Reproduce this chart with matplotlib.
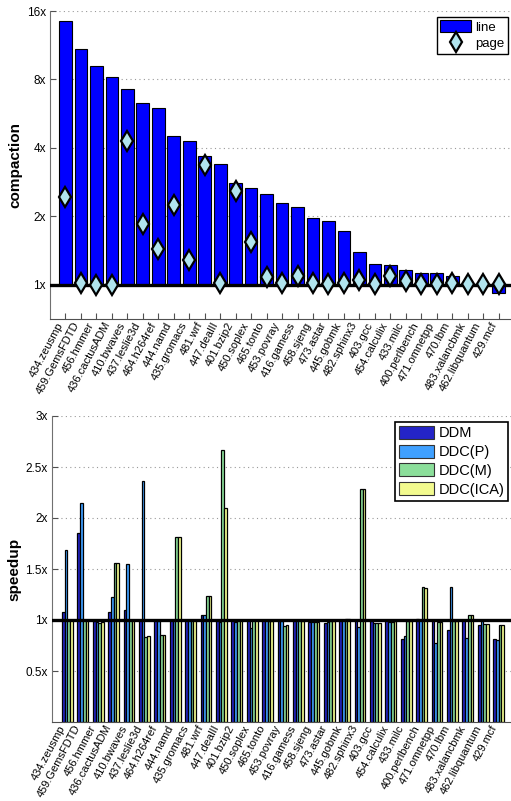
import matplotlib
matplotlib.use("Agg")
import numpy as np
import matplotlib.pyplot as plt
from matplotlib.lines import Line2D
from matplotlib.patches import Patch

plt.rcParams["font.family"] = ["Liberation Sans", "DejaVu Sans"]

benchmarks = [
    "434.zeusmp", "459.GemsFDTD", "456.hmmer", "436.cactusADM", "410.bwaves",
    "437.leslie3d", "464.h264ref", "444.namd", "435.gromacs", "481.wrf",
    "447.dealII", "401.bzip2", "450.soplex", "465.tonto", "453.povray",
    "416.gamess", "458.sjeng", "473.astar", "445.gobmk", "482.sphinx3",
    "403.gcc", "454.calculix", "433.milc", "400.perlbench", "471.omnetpp",
    "470.lbm", "483.xalancbmk", "462.libquantum", "429.mcf",
]

# compaction ratios (top panel)
line_compaction = [
    14.5, 10.9, 9.14, 8.17, 7.24, 6.29, 5.98, 4.53, 4.28, 3.68,
    3.39, 2.80, 2.67, 2.50, 2.29, 2.19, 1.96, 1.90, 1.73, 1.39,
    1.23, 1.22, 1.16, 1.13, 1.13, 1.09, 1.01, 1.0, 0.92,
]
page_compaction = [
    2.44, 1.02, 1.0, 1.0, 4.27, 1.85, 1.43, 2.25, 1.29, 3.35,
    1.02, 2.59, 1.55, 1.08, 1.02, 1.095, 1.02, 1.01, 1.02, 1.05,
    1.01, 1.095, 1.035, 1.01, 1.01, 1.02, 1.01, 1.01, 1.01,
]

# speedups (bottom panel)
ddm = [
    1.08, 1.85, 0.99, 1.08, 1.095, 1.0, 1.0, 1.0, 1.0, 1.045,
    1.0, 1.0, 1.0, 1.0, 1.0, 1.0, 0.98, 0.97, 1.0, 1.0,
    0.99, 1.0, 0.81, 1.01, 1.0, 0.90, 1.0, 0.95, 0.81,
]
ddc_p = [
    1.69, 2.15, 0.98, 1.23, 1.546, 2.36, 0.99, 1.0, 1.0, 1.045,
    0.98, 0.98, 0.92, 1.0, 0.99, 1.0, 0.98, 0.98, 1.0, 0.93,
    0.97, 0.98, 0.84, 1.0, 0.77, 1.32, 0.82, 0.99, 0.80,
]
ddc_m = [
    1.0, 1.0, 0.97, 1.555, 1.0, 0.83, 0.85, 1.81, 1.0, 1.24,
    2.67, 1.0, 1.0, 0.99, 0.94, 1.0, 0.98, 0.99, 1.01, 2.28,
    0.97, 0.98, 0.99, 1.32, 0.98, 0.99, 1.05, 0.96, 0.95,
]
ddc_ica = [
    1.0, 1.0, 0.98, 1.555, 1.0, 0.845, 0.85, 1.81, 1.0, 1.24,
    2.10, 1.0, 1.0, 0.99, 0.95, 0.99, 0.98, 0.99, 1.01, 2.28,
    0.97, 0.99, 0.99, 1.31, 0.98, 0.99, 1.045, 0.96, 0.95,
]

speedup_series = [
    ("DDM", ddm, "#2424c8"),
    ("DDC(P)", ddc_p, "#3fa0ff"),
    ("DDC(M)", ddc_m, "#8bde9a"),
    ("DDC(ICA)", ddc_ica, "#f2fa8e"),
]

x = np.arange(1, len(benchmarks) + 1)
FS = 8.5
XFS = 8


def style_axes(ax):
    for side in ("top", "right"):
        ax.spines[side].set_visible(False)
    ax.spines["left"].set_color("#707070")
    ax.spines["bottom"].set_color("#505050")
    ax.tick_params(axis="both", direction="in", length=4, color="#505050",
                   labelsize=FS, pad=3)
    ax.tick_params(axis="x", pad=1)
    ax.yaxis.grid(True, linestyle=(0, (1, 3)), color="#999999", linewidth=0.8)
    ax.set_axisbelow(True)
    ax.set_xticks(x)
    ax.set_xticklabels(benchmarks, rotation=62, ha="right",
                       rotation_mode="default", fontsize=XFS)
    ax.set_xlim(0, 29.8)


fig = plt.figure(figsize=(5.11, 8.01), dpi=100)

# Top panel: compaction on a log2 scale
ax1 = fig.add_axes([50 / 511, 1 - 319 / 801, 461 / 511, 308 / 801])
ax1.set_yscale("log", base=2)
ax1.set_ylim(2 ** -0.5, 16)
ax1.bar(x, np.array(line_compaction) - 1, bottom=1, width=0.82,
        color="#0000ff", edgecolor="black", linewidth=0.8, zorder=2)
ax1.axhline(1, color="black", linewidth=2.4, zorder=3)
ax1.plot(x, page_compaction, linestyle="none", marker="d", markersize=10.5,
         markerfacecolor="#b0e4ee", markeredgecolor="black",
         markeredgewidth=1.6, zorder=4)
ax1.set_yticks([1, 2, 4, 8, 16])
ax1.set_yticklabels(["1x", "2x", "4x", "8x", "16x"])
ax1.minorticks_off()
style_axes(ax1)
ax1.set_ylabel("compaction", fontsize=11, fontweight="bold", labelpad=3)

top_handles = [
    Patch(facecolor="#0000ff", edgecolor="black", linewidth=0.8),
    Line2D([], [], linestyle="none", marker="d", markersize=10,
           markerfacecolor="#b0e4ee", markeredgecolor="black",
           markeredgewidth=1.6),
]
leg1 = ax1.legend(top_handles, ["line", "page"], loc="upper right",
                  bbox_to_anchor=(1 - 3 / 461, 1 - 6 / 308),
                  fontsize=9.5, frameon=True, fancybox=False, framealpha=1,
                  edgecolor="black", handlelength=2.4, handleheight=1.0,
                  labelspacing=0.25, handletextpad=0.3, borderpad=0.25,
                  borderaxespad=0)
leg1.get_frame().set_linewidth(1.0)

# Bottom panel: grouped speedup bars
ax2 = fig.add_axes([52 / 511, 1 - 722 / 801, 459 / 511, 306 / 801])
ax2.set_ylim(0, 3)
bw = 0.175
for i, (name, vals, col) in enumerate(speedup_series):
    ax2.bar(x + (i - 1.5) * bw, vals, width=bw, color=col,
            edgecolor="black", linewidth=0.9, label=name, zorder=2)
ax2.axhline(1, color="black", linewidth=2.4, zorder=3)
ax2.set_yticks([0.5, 1, 1.5, 2, 2.5, 3])
ax2.set_yticklabels(["0.5x", "1x", "1.5x", "2x", "2.5x", "3x"])
style_axes(ax2)
ax2.set_ylabel("speedup", fontsize=11, fontweight="bold", labelpad=3)

bottom_handles = [Patch(facecolor=c, edgecolor="#333333", linewidth=0.8)
                  for _, _, c in speedup_series]
leg2 = ax2.legend(bottom_handles, [s[0] for s in speedup_series],
                  loc="upper right",
                  bbox_to_anchor=(1 - 3 / 459, 1 - 6 / 306),
                  fontsize=10.5, frameon=True, fancybox=False, framealpha=1,
                  edgecolor="black", handlelength=2.4, handleheight=1.0,
                  labelspacing=0.3, handletextpad=0.3, borderpad=0.25,
                  borderaxespad=0)
leg2.get_frame().set_linewidth(1.2)

fig.savefig("out.png", dpi=100)
plt.close(fig)
